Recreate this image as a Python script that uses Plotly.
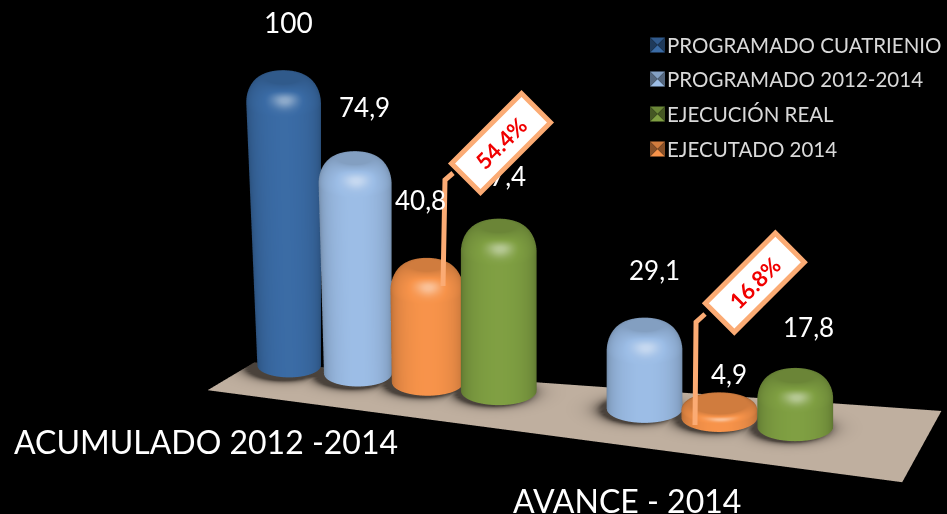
import numpy as np
import plotly.graph_objects as go

categories = ["ACUMULADO 2012 -2014", "AVANCE - 2014"]
series_names = ["PROGRAMADO CUATRIENIO", "PROGRAMADO 2012-2014", "EJECUCIÓN REAL", "EJECUTADO 2014"]
series_colors = ["#3a6ba5", "#9cbde6", "#7f9f42", "#f7934a"]
programado_cuatrienio = [100, None]
programado_2012_2014 = [74.9, 29.1]
ejecucion_real = [57.4, 17.8]
ejecutado_2014 = [40.8, 4.9]
callouts = ["54.4%", "16.8%"]

# label offsets in px, one per drawn bar (style, not data)
label_dx = [-1, 7, -7, 2, 10, 10, 13]
label_dy = [56, 52, 65, 50, 55, 30, 49]

UNIT = 23.1        # value units per slot width
HALF = 8.0         # half width of the scene box, in slots
BAR_R = 0.53
FONT = "Lato"
EYE = np.array([0.594, -1.83, 0.777])
VIEW = EYE / np.linalg.norm(EYE)
LIGHT = np.array([0.28, -0.75, 0.6])
LIGHT = LIGHT / np.linalg.norm(LIGHT)


def slot_x(s):
    return s + 0.009 * s * s


def shade_scale(hexcol):
    rgb = np.array([int(hexcol[i:i + 2], 16) for i in (1, 3, 5)], float)
    dark = rgb * 0.62
    light = rgb + (255 - rgb) * 0.42
    f = lambda c: "rgb(%d,%d,%d)" % tuple(c)
    return [[0, f(dark)], [0.6, f(rgb)], [1, f(light)]]


def bar_surface(slot, value, color):
    bevel = min(9.0, 0.45 * value)
    inset = 0.29 * min(1.0, (bevel / 9.0) ** 0.5)
    persp = max(0.0, (3 - slot) / 3.0)
    th = np.linspace(0, 2 * np.pi, 120)
    ang = np.linspace(0, np.pi / 2, 28)
    body = np.linspace(0, value - bevel, 10)
    cap_r = np.linspace(BAR_R - inset, 0, 6)[1:]
    rr = np.array([BAR_R] * len(body) + list(BAR_R - inset + inset * np.cos(ang)) + list(cap_r))
    zz = np.array(list(body) + list(value - bevel + bevel * np.sin(ang)) + [value] * len(cap_r))
    nr = np.array([1.0] * len(body) + list(np.cos(ang)) + [0.0] * len(cap_r))
    nz = np.array([0.0] * len(body) + list(np.sin(ang)) + [1.0] * len(cap_r))
    taper = 1 - 0.16 * persp + 0.16 * persp * zz / 100
    lean = -0.09 * persp * zz / 100
    X = slot_x(slot) + lean[:, None] + np.outer(rr * taper, np.cos(th))
    Y = np.outer(rr * taper, np.sin(th))
    Z = np.outer(zz, np.ones_like(th))
    nx, ny = np.outer(nr, np.cos(th)), np.outer(nr, np.sin(th))
    nzz = np.outer(nz, np.ones_like(th))
    ndv = np.clip((nx * VIEW[0] + ny * VIEW[1] + nzz * VIEW[2]) / 0.927, 0, 1)
    ndl = nx * LIGHT[0] + ny * LIGHT[1] + nzz * LIGHT[2]
    t = 0.6 * ndv ** 0.6 + 0.42 * np.exp(-(1 - np.clip(ndl, -1, 1)) / 0.045)
    return go.Surface(
        x=X, y=Y, z=Z, surfacecolor=np.clip(t, 0, 1), cmin=0, cmax=1,
        colorscale=shade_scale(color), showscale=False, hoverinfo="skip",
        lighting=dict(ambient=1, diffuse=0, specular=0, roughness=1, fresnel=0),
    )


fig = go.Figure()

# bars: slot order inside each group = dark blue, light blue, orange, green
group_series = [programado_cuatrienio, programado_2012_2014, ejecutado_2014, ejecucion_real]
group_colors = [series_colors[0], series_colors[1], series_colors[3], series_colors[2]]
slots = []
for g in range(2):
    for s, vals in enumerate(group_series):
        if vals[g] is not None:
            slots.append(g * 4 + s)

# floor with soft contact shadows round the bars
floor_x = [-0.80, 9.50, 9.20, -0.50]   # front-left, front-right, back-right, back-left
floor_y = [-1.23, -1.50, 1.20, -0.039]
u, w = np.meshgrid(np.linspace(0, 1, 160), np.linspace(0, 1, 40))
FX = (1 - w) * ((1 - u) * floor_x[0] + u * floor_x[1]) + w * ((1 - u) * floor_x[3] + u * floor_x[2])
FY = (1 - w) * ((1 - u) * floor_y[0] + u * floor_y[1]) + w * ((1 - u) * floor_y[3] + u * floor_y[2])
shadow = np.zeros_like(FX)
for sl in slots:
    d = np.hypot(FX - (slot_x(sl) - 0.06), FY + 0.06) - BAR_R
    shadow = np.maximum(shadow, np.exp(-np.clip(d, 0, None) / 0.1))
fig.add_trace(go.Surface(
    x=FX, y=FY, z=np.zeros_like(FX), surfacecolor=shadow, cmin=0, cmax=1, showscale=False, hoverinfo="skip",
    colorscale=[[0, "#bfaf9f"], [1, "#4a423b"]],
    lighting=dict(ambient=1, diffuse=0, specular=0, roughness=1, fresnel=0),
))

anns = []
k = 0
for g in range(2):
    for s, (vals, col) in enumerate(zip(group_series, group_colors)):
        v = vals[g]
        if v is None:
            continue
        slot = g * 4 + s
        fig.add_trace(bar_surface(slot, v, col))
        anns.append(dict(
            x=slot_x(slot), y=0, z=v, text=f"{v:g}".replace(".", ","), showarrow=False,
            xshift=label_dx[k], yshift=label_dy[k],
            font=dict(family=FONT, size=28 if v == 100 else 26, color="white"),
        ))
        k += 1

# legend entries (marker hidden, pyramid swatches are drawn below)
for name, col in zip(series_names, series_colors):
    fig.add_trace(go.Scatter(
        x=[None], y=[None], mode="markers", name=name, legendgroup=name, showlegend=True,
        marker=dict(symbol="square", size=1, color="rgba(0,0,0,0)"),
    ))

paper_annotations = [
    dict(x=206 / 947, y=1 - 441 / 514, xref="paper", yref="paper", text=categories[0], showarrow=False,
         xanchor="center", yanchor="middle", font=dict(family=FONT, size=32, color="white")),
    dict(x=627 / 947, y=1 - 500 / 514, xref="paper", yref="paper", text=categories[1], showarrow=False,
         xanchor="center", yanchor="middle", font=dict(family=FONT, size=32, color="white")),
]
for txt, cx, cy in zip(callouts, [501, 754.5], [143, 283]):
    paper_annotations.append(dict(
        x=cx / 947, y=1 - cy / 514, xref="paper", yref="paper", text=f"<b>{txt}</b>", showarrow=False,
        xanchor="center", yanchor="middle",
        textangle=-45, width=92, height=34, bgcolor="white", bordercolor="#fbab74", borderwidth=5,
        align="center", valign="middle", font=dict(family=FONT, size=22, color="#f00000"),
    ))


def path_of(pts, closed=False):
    d = "M" + " L".join(f"{x / 947:.4f},{1 - y / 514:.4f}" for x, y in pts)
    return d + (" Z" if closed else "")


def leader(pts):
    return dict(type="path", xref="paper", yref="paper", path=path_of(pts), layer="above",
                line=dict(color="#fbab74", width=5))


shapes = [leader([(443, 286), (445, 180), (453, 173)]), leader([(695, 425), (696, 322), (705, 314)])]

# legend swatches: small pyramids
for col, cy in zip(series_colors, [45, 79, 114, 149]):
    rgb = np.array([int(col[i:i + 2], 16) for i in (1, 3, 5)], float)
    side = "rgb(%d,%d,%d)" % tuple(rgb * 0.55)
    top = "rgb(%d,%d,%d)" % tuple(rgb * 0.85)
    bot = "rgb(%d,%d,%d)" % tuple(rgb)
    x0, x1, y0, y1, mx, my = 650, 665, cy - 7.5, cy + 7.5, 657.5, cy
    for pts, c in [([(x0, y0), (x1, y0), (mx, my)], top), ([(x0, y1), (x1, y1), (mx, my)], bot),
                   ([(x0, y0), (x0, y1), (mx, my)], side), ([(x1, y0), (x1, y1), (mx, my)], side)]:
        shapes.append(dict(type="path", xref="paper", yref="paper", path=path_of(pts, True),
                           fillcolor=c, line=dict(width=0), layer="above"))

axis = dict(visible=False, showgrid=False, zeroline=False, showbackground=False, showspikes=False)
ZC = 45.6
BOX = 2.66 * HALF / 5 * 1.046
XC = 2.71
fig.update_layout(
    width=947, height=514, margin=dict(l=0, r=0, t=0, b=0),
    paper_bgcolor="black", plot_bgcolor="black",
    xaxis=dict(visible=False), yaxis=dict(visible=False),
    scene=dict(
        domain=dict(x=[0, 1], y=[0, 1]),
        xaxis=dict(range=[XC - HALF, XC + HALF], **axis),
        yaxis=dict(range=[-HALF, HALF], **axis),
        zaxis=dict(range=[ZC - HALF * UNIT, ZC + HALF * UNIT], **axis),
        aspectmode="manual", aspectratio=dict(x=BOX, y=BOX, z=BOX),
        camera=dict(eye=dict(x=EYE[0], y=EYE[1], z=EYE[2]), center=dict(x=0, y=0, z=0), up=dict(x=0, y=0, z=1),
                    projection=dict(type="orthographic")),
        bgcolor="rgba(0,0,0,0)",
        annotations=anns,
    ),
    annotations=paper_annotations,
    shapes=shapes,
    legend=dict(x=1, y=1 - 25 / 514, xanchor="right", yanchor="top",
                entrywidth=254, entrywidthmode="pixels",
                bgcolor="rgba(0,0,0,0)", font=dict(family=FONT, size=20.5, color="#d9d9d9"), tracegroupgap=5),
    showlegend=True,
)
fig.write_html("out.html", config=dict(displayModeBar=False),
               post_script="document.body.style.margin='0';document.body.style.background='black';")
